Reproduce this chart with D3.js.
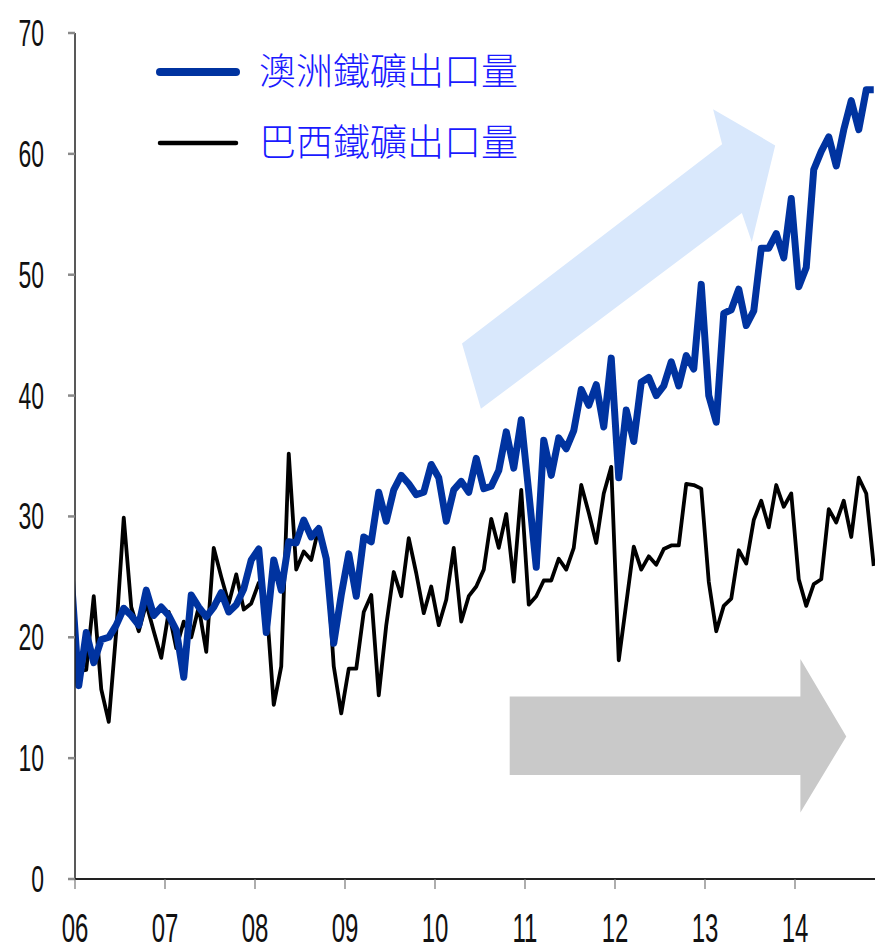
<!DOCTYPE html>
<html>
<head>
<meta charset="utf-8">
<script src="https://cdn.jsdelivr.net/npm/d3@7"></script>
<style>
  html, body { margin: 0; padding: 0; background: #fff; }
  svg { display: block; }
</style>
</head>
<body>
<svg id="chart" width="875" height="950"></svg>
<script>
// Monthly iron-ore export volumes, first value is Dec 2005
const seriesStart = { year: 2005, month: 12 };

const australia = [
  25.0,
  16.0, 20.4, 17.9, 19.8, 20.0, 21.0, 22.4, 21.8, 21.0, 23.9, 21.8, 22.5,
  21.8, 20.6, 16.7, 23.5, 22.5, 21.7, 22.5, 23.7, 22.1, 22.7, 24.0, 26.4,
  27.3, 20.4, 26.4, 23.9, 27.9, 27.8, 29.7, 28.3, 29.0, 26.5, 19.5, 23.5,
  26.9, 23.4, 28.3, 27.9, 32.0, 29.6, 32.2, 33.4, 32.7, 31.8, 32.0, 34.3,
  33.2, 29.6, 32.2, 32.9, 32.0, 34.8, 32.3, 32.5, 33.8, 37.0, 34.0, 38.0,
  32.0, 25.8, 36.3, 33.4, 36.5, 35.6, 37.1, 40.5, 39.2, 40.9, 37.4, 43.1,
  33.2, 38.8, 36.2, 41.1, 41.5, 40.0, 40.8, 42.8, 40.8, 43.3, 42.2, 49.2,
  40.0, 37.8, 46.8, 47.1, 48.8, 45.8, 47.0, 52.2, 52.2, 53.4, 51.4, 56.3,
  49.0, 50.6, 58.7, 60.2, 61.4, 59.0, 62.0, 64.4, 62.0, 65.3, 65.3
];

const brazil = [
  20.0,
  17.2, 17.3, 23.4, 15.7, 13.0, 20.5, 29.9, 22.5, 20.5, 22.8, 20.5, 18.3,
  22.1, 19.1, 21.3, 20.0, 22.5, 18.8, 27.4, 25.0, 22.8, 25.2, 22.3, 22.8,
  24.5, 23.0, 14.4, 17.6, 35.2, 25.6, 27.1, 26.4, 29.1, 26.8, 17.6, 13.7,
  17.4, 17.4, 22.1, 23.5, 15.2, 21.0, 25.4, 23.4, 28.2, 25.3, 22.0, 24.2,
  21.0, 23.1, 27.4, 21.3, 23.4, 24.2, 25.6, 29.8, 27.4, 30.2, 24.6, 32.2,
  22.7, 23.4, 24.7, 24.7, 26.5, 25.6, 27.4, 32.6, 30.3, 27.8, 31.9, 34.1,
  18.1, 22.8, 27.5, 25.6, 26.7, 26.0, 27.3, 27.6, 27.6, 32.7, 32.6, 32.3,
  24.6, 20.5, 22.6, 23.2, 27.2, 26.1, 29.7, 31.3, 29.1, 32.6, 30.8, 31.9,
  24.8, 22.6, 24.4, 24.8, 30.6, 29.5, 31.3, 28.3, 33.2, 31.9, 25.9
];

const yearTicks = [2006, 2007, 2008, 2009, 2010, 2011, 2012, 2013, 2014];
const yearLabels = ["06", "07", "08", "09", "10", "11", "12", "13", "14"];
const valueTicks = [0, 10, 20, 30, 40, 50, 60, 70];
const seriesNames = ["澳洲鐵礦出口量", "巴西鐵礦出口量"];

// Decorative trend arrows, in (year, value) space
const upArrow = [
  [2010.30, 44.3], [2013.19, 60.8], [2013.09, 63.7], [2013.78, 60.7],
  [2013.52, 52.7], [2013.41, 55.1], [2010.51, 38.9]
];
const flatArrow = [
  [2010.83, 15.1], [2014.06, 15.1], [2014.06, 18.2], [2014.57, 11.8],
  [2014.06, 5.5], [2014.06, 8.6], [2010.83, 8.6]
];

const svg = d3.select("#chart");
const plotLeft = 75, plotRight = 875, plotTop = 33, plotBottom = 879;

const x = d3.scaleLinear().domain([2006, 2006 + 8 + 8 / 9]).range([plotLeft, plotRight]);
const y = d3.scaleLinear().domain([0, 70]).range([plotBottom, plotTop]);

// fractional year of each monthly sample (plotted mid-month)
const t = i => seriesStart.year + (seriesStart.month - 1 + i + 0.5) / 12;

svg.append("defs").append("clipPath").attr("id", "plotClip")
  .append("rect").attr("x", plotLeft).attr("y", 0)
  .attr("width", plotRight - plotLeft).attr("height", plotBottom);

// arrows
const poly = d3.line().x(d => x(d[0])).y(d => y(d[1]));
svg.append("path").attr("d", poly(upArrow) + "Z").attr("fill", "#d9e8fc");
svg.append("path").attr("d", poly(flatArrow) + "Z").attr("fill", "#c9c9c9");

// series lines
const line = d3.line().x((d, i) => x(t(i))).y(d => y(d));
const plot = svg.append("g").attr("clip-path", "url(#plotClip)");
plot.append("path").datum(brazil).attr("d", line)
  .attr("fill", "none").attr("stroke", "#000").attr("stroke-width", 3.8)
  .attr("stroke-linejoin", "round");
plot.append("path").datum(australia).attr("d", line)
  .attr("fill", "none").attr("stroke", "#0033a0").attr("stroke-width", 7)
  .attr("stroke-linejoin", "round");

// axes
const axisColor = "#222";
svg.append("line").attr("x1", plotLeft).attr("x2", plotLeft).attr("y1", plotTop).attr("y2", plotBottom)
  .attr("stroke", axisColor).attr("stroke-width", 1.5);
svg.append("line").attr("x1", plotLeft).attr("x2", plotRight).attr("y1", plotBottom).attr("y2", plotBottom)
  .attr("stroke", axisColor).attr("stroke-width", 2.2);

const labelFont = "'Liberation Sans', Arial, sans-serif";

svg.selectAll(".ytick").data(valueTicks).join("line")
  .attr("x1", plotLeft - 7).attr("x2", plotLeft).attr("y1", d => y(d)).attr("y2", d => y(d))
  .attr("stroke", "#8a8a8a").attr("stroke-width", 2.5);

svg.selectAll(".ylab").data(valueTicks).join("text")
  .attr("transform", d => `translate(44,${y(d) + 13}) scale(0.62,1)`)
  .attr("text-anchor", "end")
  .attr("font-family", labelFont).attr("font-size", 37)
  .attr("fill", "#111").text(d => d);

svg.selectAll(".xtick").data(yearTicks).join("line")
  .attr("x1", d => x(d)).attr("x2", d => x(d)).attr("y1", plotBottom).attr("y2", plotBottom + 10)
  .attr("stroke", "#777").attr("stroke-width", 1.2);

svg.selectAll(".xlab").data(yearTicks).join("text")
  .attr("transform", d => `translate(${x(d)},942) scale(0.6,1)`)
  .attr("text-anchor", "middle")
  .attr("font-family", labelFont).attr("font-size", 40)
  .attr("fill", "#111").text((d, i) => yearLabels[i]);

// legend
const legend = svg.append("g");
const legendRows = [
  { name: seriesNames[0], color: "#0033a0", width: 8, yPos: 72 },
  { name: seriesNames[1], color: "#000", width: 4.5, yPos: 143 }
];
legendRows.forEach(r => {
  legend.append("line").attr("x1", 160).attr("x2", 236).attr("y1", r.yPos).attr("y2", r.yPos)
    .attr("stroke", r.color).attr("stroke-width", r.width).attr("stroke-linecap", "round");
  legend.append("text").attr("x", 259).attr("y", r.yPos + 13)
    .attr("font-family", "'Noto Sans CJK TC', 'Noto Sans CJK SC', sans-serif")
    .attr("font-weight", 300)
    .attr("font-size", 37).attr("fill", "#1a1aff").text(r.name);
});
</script>
</body>
</html>
